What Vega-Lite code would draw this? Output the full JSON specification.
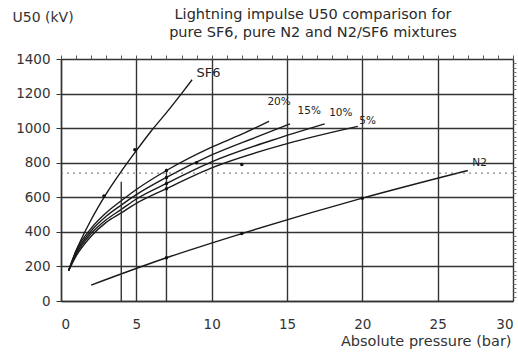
{
  "$schema": "https://vega.github.io/schema/vega-lite/v6.json",
  "width": 452,
  "height": 242,
  "autosize": "none",
  "padding": {"left": 61, "top": 59, "right": 5, "bottom": 53},
  "background": "white",
  "config": {"view": {"stroke": null}, "font": "DejaVu Sans"},
  "title": {
    "text": ["Lightning impulse U50 comparison for", "pure SF6, pure N2 and N2/SF6 mixtures"],
    "fontSize": 14.5,
    "fontWeight": "normal",
    "color": "#2a2a2a",
    "anchor": "middle",
    "frame": "group",
    "dx": 26,
    "dy": 50,
    "offset": 20,
    "lineHeight": 18
  },
  "datasets": {
    "curves": [
      {"series": "SF6", "p": 0.5, "u": 175},
      {"series": "SF6", "p": 1, "u": 290},
      {"series": "SF6", "p": 2, "u": 470},
      {"series": "SF6", "p": 3, "u": 620},
      {"series": "SF6", "p": 4, "u": 750},
      {"series": "SF6", "p": 5, "u": 870},
      {"series": "SF6", "p": 6, "u": 985},
      {"series": "SF6", "p": 7, "u": 1090},
      {"series": "SF6", "p": 8, "u": 1200},
      {"series": "SF6", "p": 8.7, "u": 1280},
      {"series": "20%", "p": 0.5, "u": 175},
      {"series": "20%", "p": 1, "u": 290},
      {"series": "20%", "p": 2, "u": 420},
      {"series": "20%", "p": 3, "u": 510},
      {"series": "20%", "p": 4, "u": 580},
      {"series": "20%", "p": 5, "u": 645},
      {"series": "20%", "p": 7, "u": 755},
      {"series": "20%", "p": 10, "u": 890},
      {"series": "20%", "p": 12, "u": 965},
      {"series": "20%", "p": 13.8, "u": 1040},
      {"series": "15%", "p": 0.5, "u": 175},
      {"series": "15%", "p": 1, "u": 280},
      {"series": "15%", "p": 2, "u": 405},
      {"series": "15%", "p": 3, "u": 490},
      {"series": "15%", "p": 4, "u": 555},
      {"series": "15%", "p": 5, "u": 615},
      {"series": "15%", "p": 7, "u": 715},
      {"series": "15%", "p": 10, "u": 845},
      {"series": "15%", "p": 13, "u": 950},
      {"series": "15%", "p": 15.2, "u": 1025},
      {"series": "10%", "p": 0.5, "u": 175},
      {"series": "10%", "p": 1, "u": 270},
      {"series": "10%", "p": 2, "u": 390},
      {"series": "10%", "p": 3, "u": 470},
      {"series": "10%", "p": 4, "u": 530},
      {"series": "10%", "p": 5, "u": 590},
      {"series": "10%", "p": 7, "u": 680},
      {"series": "10%", "p": 10, "u": 805},
      {"series": "10%", "p": 14, "u": 930},
      {"series": "10%", "p": 17.5, "u": 1025},
      {"series": "5%", "p": 0.5, "u": 175},
      {"series": "5%", "p": 1, "u": 260},
      {"series": "5%", "p": 2, "u": 375},
      {"series": "5%", "p": 3, "u": 455},
      {"series": "5%", "p": 4, "u": 510},
      {"series": "5%", "p": 5, "u": 565},
      {"series": "5%", "p": 7, "u": 650},
      {"series": "5%", "p": 10, "u": 770},
      {"series": "5%", "p": 15, "u": 910},
      {"series": "5%", "p": 19.7, "u": 1010},
      {"series": "N2", "p": 2, "u": 92},
      {"series": "N2", "p": 7, "u": 250},
      {"series": "N2", "p": 12, "u": 390},
      {"series": "N2", "p": 20, "u": 595},
      {"series": "N2", "p": 27, "u": 755}
    ],
    "markers": [
      {"p": 2.85, "u": 607},
      {"p": 4.9, "u": 875},
      {"p": 7, "u": 755},
      {"p": 7, "u": 715},
      {"p": 7, "u": 680},
      {"p": 7, "u": 650},
      {"p": 9, "u": 800},
      {"p": 12, "u": 790},
      {"p": 7, "u": 250},
      {"p": 12, "u": 390},
      {"p": 20, "u": 595}
    ],
    "labels": [
      {"label": "SF6", "p": 9.0, "u": 1320, "size": "big"},
      {"label": "20%", "p": 13.7, "u": 1150, "size": "small"},
      {"label": "15%", "p": 15.7, "u": 1100, "size": "small"},
      {"label": "10%", "p": 17.8, "u": 1085, "size": "small"},
      {"label": "5%", "p": 19.8, "u": 1040, "size": "small"},
      {"label": "N2", "p": 27.3, "u": 800, "size": "small"}
    ],
    "vlines": [
      {"p": 4, "u0": 0, "u1": 690},
      {"p": 7, "u0": 0, "u1": 765}
    ],
    "hline": [
      {"p0": 0, "p1": 30, "u": 740}
    ]
  },
  "resolve": {"axis": {"x": "independent", "y": "independent"}},
  "layer": [
    {
      "data": {"name": "curves"},
      "mark": {"type": "line", "interpolate": "monotone", "color": "#1a1a1a", "strokeWidth": 1.4},
      "encoding": {
        "x": {
          "field": "p", "type": "quantitative",
          "scale": {"domain": [0, 30], "nice": false, "zero": false},
          "axis": {
            "values": [0, 5, 10, 15, 20, 25, 30],
            "grid": true, "gridColor": "#333", "gridWidth": 1.4,
            "domainColor": "#333", "domainWidth": 1.4,
            "ticks": false,
            "labelPadding": 16, "labelFontSize": 13.5, "labelColor": "#333",
            "title": "Absolute pressure (bar)",
            "titleFontSize": 14.5, "titleFontWeight": "normal", "titleColor": "#333",
            "titleAlign": "right", "titleX": 450, "titleY": 40, "titleBaseline": "middle"
          }
        },
        "y": {
          "field": "u", "type": "quantitative",
          "scale": {"domain": [0, 1400], "nice": false},
          "axis": {
            "values": [0, 200, 400, 600, 800, 1000, 1200, 1400],
            "format": "d",
            "grid": true, "gridColor": "#333", "gridWidth": 1.4,
            "domainColor": "#333", "domainWidth": 1.4,
            "tickSize": 5, "tickColor": "#333",
            "labelPadding": 6, "labelFontSize": 13.5, "labelColor": "#333",
            "title": "U50 (kV)",
            "titleFontSize": 14, "titleFontWeight": "normal", "titleColor": "#333",
            "titleAngle": 0, "titleAlign": "left", "titleBaseline": "middle",
            "titleX": -49, "titleY": -42
          }
        },
        "detail": {"field": "series"}
      }
    },
    {
      "data": {"name": "vlines"},
      "mark": {"type": "rule", "color": "#333", "strokeWidth": 1.4},
      "encoding": {
        "x": {
          "field": "p", "type": "quantitative",
          "axis": {
            "values": [0,1,2,3,4,5,6,7,8,9,10,11,12,13,14,15,16,17,18,19,20,21,22,23,24,25,26,27,28,29,30],
            "labels": false, "domain": false, "grid": false,
            "tickSize": 4, "tickColor": "#555", "title": null
          }
        },
        "y": {
          "field": "u0", "type": "quantitative",
          "axis": {
            "values": [25,50,75,100,125,150,175,225,250,275,300,325,350,375,425,450,475,500,525,550,575,625,650,675,700,725,750,775,825,850,875,900,925,950,975,1025,1050,1075,1100,1125,1150,1175,1225,1250,1275,1300,1325,1350,1375],
            "labels": false, "domain": false, "grid": false,
            "tickSize": 3, "tickColor": "#777", "title": null
          }
        },
        "y2": {"field": "u1"}
      }
    },
    {
      "data": {"name": "hline"},
      "mark": {"type": "rule", "color": "#666", "strokeWidth": 1, "strokeDash": [2, 4]},
      "encoding": {
        "x": {"field": "p0", "type": "quantitative", "axis": null},
        "x2": {"field": "p1"},
        "y": {"field": "u", "type": "quantitative", "axis": null}
      }
    },
    {
      "data": {"name": "markers"},
      "mark": {"type": "point", "filled": true, "color": "#111", "size": 12, "opacity": 1},
      "encoding": {
        "x": {"field": "p", "type": "quantitative", "axis": null},
        "y": {"field": "u", "type": "quantitative", "axis": null}
      }
    },
    {
      "data": {"name": "labels"},
      "mark": {"type": "text", "align": "left", "baseline": "middle", "color": "#222"},
      "encoding": {
        "x": {"field": "p", "type": "quantitative", "axis": null},
        "y": {"field": "u", "type": "quantitative", "axis": null},
        "text": {"field": "label"},
        "size": {"field": "size", "type": "nominal", "scale": {"domain": ["big", "small"], "range": [13, 10.5]}, "legend": null}
      }
    }
  ]
}
